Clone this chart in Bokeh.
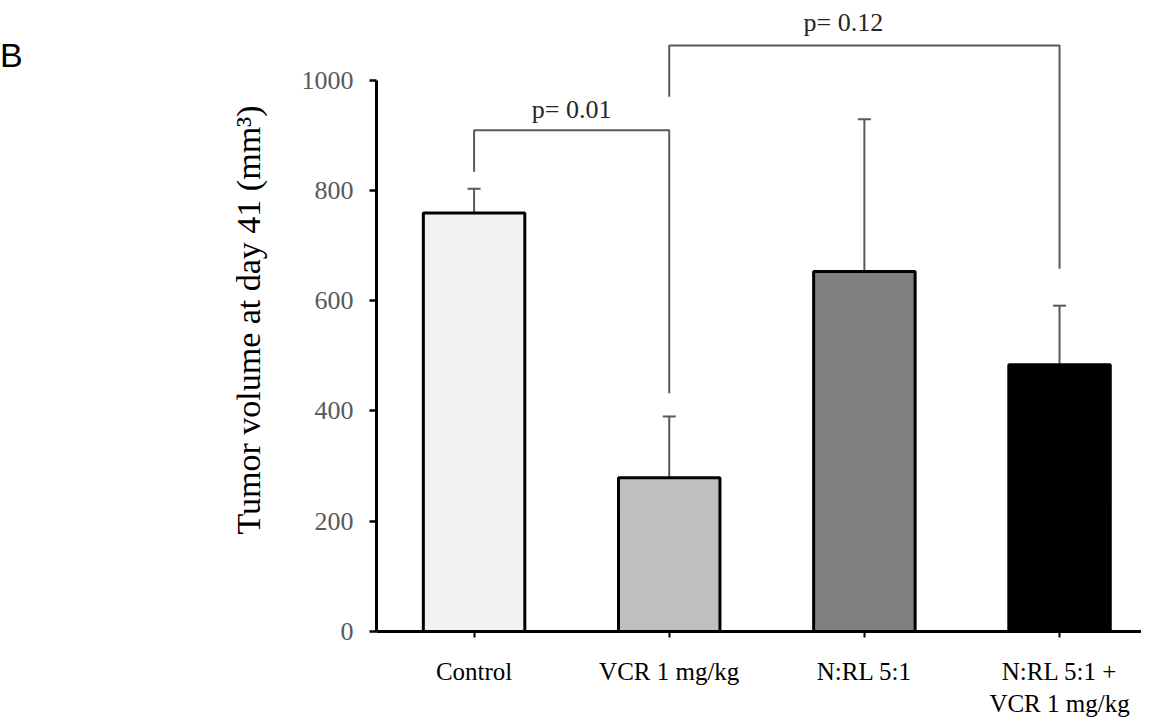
from bokeh.plotting import figure
from bokeh.models import Range1d, FixedTicker, Whisker, TeeHead, ColumnDataSource, Div
from bokeh.layouts import row
from bokeh.core.properties import value
from bokeh.embed import file_html
from bokeh.resources import INLINE

# ---- data ----
panel_letter = "B"
categories = ["Control", "VCR 1 mg/kg", "N:RL 5:1", "N:RL 5:1 +\nVCR 1 mg/kg"]
means = [759, 279, 653, 484]
errors = [44, 111, 276, 107]
colors = ["#f2f2f2", "#bfbfbf", "#7f7f7f", "#000000"]
y_ticks = [0, 200, 400, 600, 800, 1000]

# significance brackets: (left group index, right group index)
bracket_pairs = [(0, 1), (1, 3)]
bracket_top = [909, 1063]
bracket_left_bottom = [834, 970]
bracket_right_bottom = [432, 658]
bracket_labels = ["p= 0.01", "p= 0.12"]
bracket_label_y = [946, 1105]
bracket_label_dx = [0, -21]

xs = list(range(1, len(categories) + 1))
upper = [m + e for m, e in zip(means, errors)]

SERIF = "Liberation Serif"
DIV_W = 40

p = figure(frame_width=765, frame_height=623,
           x_range=Range1d(0.5, 4.42), y_range=Range1d(0, 1130),
           output_backend="svg", toolbar_location=None,
           min_border_left=376 - DIV_W, min_border_right=0, min_border_top=8, min_border_bottom=0)
p.outline_line_color = None
p.xgrid.visible = False
p.ygrid.visible = False
p.background_fill_color = "white"
p.border_fill_color = "white"

src = ColumnDataSource(dict(x=xs, top=means, color=colors, upper=upper))
p.vbar(x="x", top="top", width=0.52, fill_color="color", line_color="black",
       line_width=3, source=src)

wh = Whisker(base="x", lower="top", upper="upper", source=src,
             line_color="#595959", line_width=2,
             upper_head=TeeHead(size=13, line_color="#595959", line_width=2),
             lower_head=None)
p.add_layout(wh)

# brackets
bxs, bys, tx = [], [], []
for (a, b), t, lb, rb in zip(bracket_pairs, bracket_top, bracket_left_bottom, bracket_right_bottom):
    xa, xb = xs[a], xs[b]
    bxs.append([xa, xa, xb, xb])
    bys.append([lb, t, t, rb])
    tx.append((xa + xb) / 2)
p.multi_line(xs=bxs, ys=bys, line_color="#595959", line_width=2)
p.text(x=tx, y=bracket_label_y, text=bracket_labels, x_offset=bracket_label_dx,
       text_align="center", text_baseline="middle",
       text_font=value(SERIF), text_font_size="26px", text_color="#262626")

# axes
p.xaxis.ticker = FixedTicker(ticks=xs)
p.xaxis.major_label_overrides = {x: c for x, c in zip(xs, categories)}
p.xaxis.minor_tick_line_color = None
p.xaxis.major_tick_in = 0
p.xaxis.major_tick_out = 6
p.xaxis.major_tick_line_width = 2
p.xaxis.axis_line_width = 3
p.xaxis.axis_line_color = "black"
p.xaxis.major_label_text_font = SERIF
p.xaxis.major_label_text_font_size = "25px"
p.xaxis.major_label_text_color = "black"
p.xaxis.major_label_standoff = 20

p.yaxis.ticker = FixedTicker(ticks=y_ticks)
p.yaxis.bounds = (0, 1000)
p.yaxis.minor_tick_line_color = None
p.yaxis.major_tick_in = 0
p.yaxis.major_tick_out = 7
p.yaxis.major_tick_line_width = 2.5
p.yaxis.axis_line_width = 3
p.yaxis.axis_line_color = "black"
p.yaxis.major_label_text_font = SERIF
p.yaxis.major_label_text_font_size = "26px"
p.yaxis.major_label_text_color = "#595959"
p.yaxis.major_label_standoff = 16
p.yaxis.axis_label = "Tumor volume at day 41 (mm³)"
p.yaxis.axis_label_text_font = SERIF
p.yaxis.axis_label_text_font_size = "34px"
p.yaxis.axis_label_text_font_style = "normal"
p.yaxis.axis_label_text_color = "black"
p.yaxis.axis_label_standoff = 32

letter = Div(text=panel_letter, width=DIV_W, height=90, margin=0,
             styles={"font-family": "Liberation Sans", "font-size": "34px",
                     "padding-top": "36px", "color": "black", "line-height": "normal"})

layout = row(letter, p)
open("out.html", "w").write(file_html(layout, INLINE))
